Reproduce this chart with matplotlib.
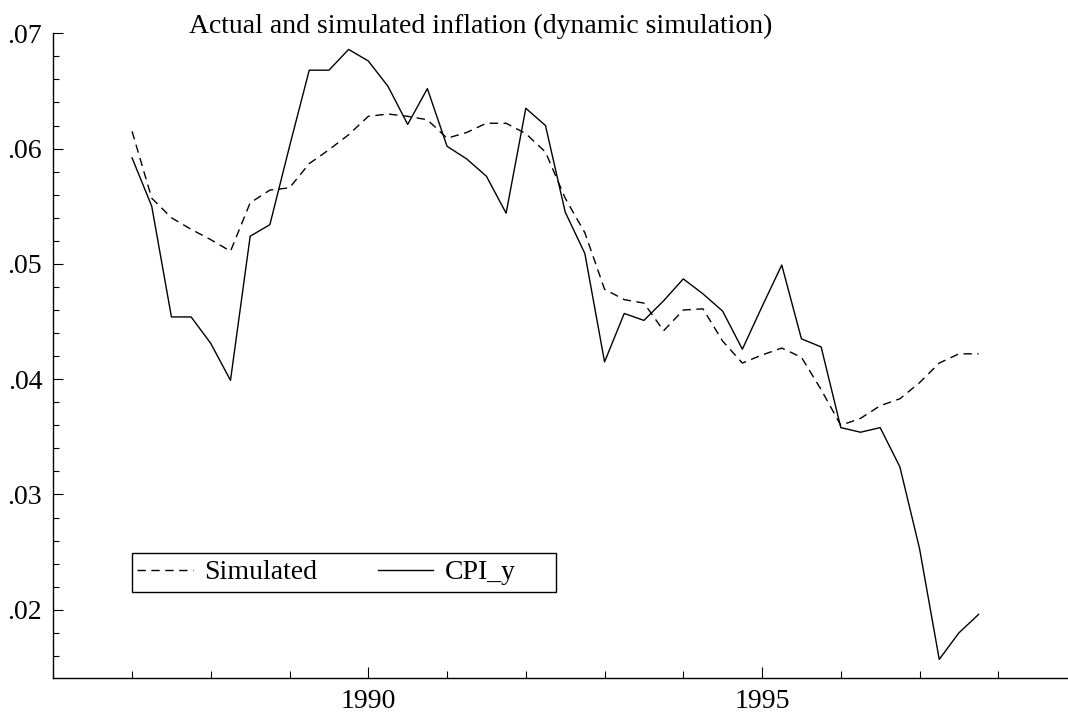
import numpy as np
import matplotlib
matplotlib.use("Agg")
import matplotlib.pyplot as plt
from matplotlib.ticker import MultipleLocator, FuncFormatter
from matplotlib.patches import Rectangle

# quarterly observations 1987Q1 - 1997Q4
first_year = 1987
cpi_y = [0.0592, 0.0550, 0.0454, 0.0454, 0.0431, 0.0399, 0.0524, 0.0534,
         0.0602, 0.0668, 0.0668, 0.0686, 0.0676, 0.0654, 0.0621, 0.0652,
         0.0602, 0.0591, 0.0576, 0.0544, 0.0635, 0.0620, 0.0545, 0.0509,
         0.0415, 0.0457, 0.0451, 0.0468, 0.0487, 0.0474, 0.0459, 0.0426,
         0.0463, 0.0499, 0.0435, 0.0428, 0.0358, 0.0354, 0.0358, 0.0324,
         0.0253, 0.0157, 0.0180, 0.0196]
simulated = [0.0615, 0.0557, 0.0540, 0.0530, 0.0521, 0.0511, 0.0553, 0.0564,
             0.0566, 0.0587, 0.0599, 0.0612, 0.0628, 0.0630, 0.0628, 0.0625,
             0.0609, 0.0614, 0.0622, 0.0622, 0.0613, 0.0597, 0.0557, 0.0527,
             0.0478, 0.0469, 0.0466, 0.0442, 0.0460, 0.0461, 0.0433, 0.0414,
             0.0421, 0.0427, 0.0419, 0.0391, 0.0360, 0.0366, 0.0377, 0.0383,
             0.0397, 0.0414, 0.0422, 0.0422]
t = first_year + np.arange(len(cpi_y)) / 4.0

plt.rcParams['font.family'] = ['Liberation Serif', 'DejaVu Serif']
fs = 20
W, H = 1068, 717

fig = plt.figure(figsize=(W/100, H/100), dpi=100)
ax = fig.add_axes([53.3/W, 1-677.7/H, 1-53.3/W, (677.7-33.3)/H])

ax.plot(t, simulated, color='black', lw=1.0, dashes=(6, 4), label='Simulated')
ax.plot(t, cpi_y, color='black', lw=1.0, label='CPI_y')

ax.set_xlim(1986, 1998.885)
ax.set_ylim(0.01411, 0.07)
for s in ['top', 'right']:
    ax.spines[s].set_visible(False)
for s in ['left', 'bottom']:
    ax.spines[s].set_linewidth(1.0)

ax.xaxis.set_major_locator(MultipleLocator(5))
ax.xaxis.set_minor_locator(MultipleLocator(1))
ax.yaxis.set_major_locator(MultipleLocator(0.01))
ax.yaxis.set_minor_locator(MultipleLocator(0.002))
ax.yaxis.set_major_formatter(FuncFormatter(lambda v, p: ('%.2f' % v).lstrip('0')))
ax.xaxis.set_major_formatter(FuncFormatter(lambda v, p: '%d' % v))
ax.tick_params(which='both', direction='in', labelsize=fs, width=0.8)
ax.tick_params(axis='y', which='major', length=7, pad=8)
ax.tick_params(axis='y', which='minor', length=4)
ax.tick_params(axis='x', which='major', length=8, pad=8)
ax.tick_params(axis='x', which='minor', length=5)

# legend: entries without frame, box drawn separately (wider than the entries)
leg = ax.legend(loc='center left', bbox_to_anchor=(137/W, 1-572.5/H), bbox_transform=fig.transFigure,
                ncol=2, fontsize=fs, frameon=False, handlelength=2.0,
                handletextpad=0.4, columnspacing=2.2, borderpad=0, borderaxespad=0)
fig.patches.append(Rectangle((132/W, 1-592/H), (556-132)/W, (592-553)/H, transform=fig.transFigure,
                             fill=False, edgecolor='black', lw=1.0))

fig.text(189/W, 1-33/H, 'Actual and simulated inflation (dynamic simulation)',
         fontsize=fs, ha='left', va='baseline')

fig.savefig('out.png', dpi=100)
